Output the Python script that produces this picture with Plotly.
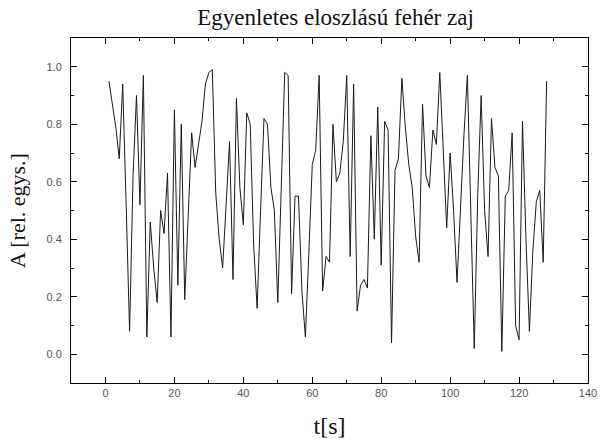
import plotly.graph_objects as go

t = list(range(1, 129))
amplitude = [
    0.95, 0.87, 0.79, 0.68, 0.94, 0.52, 0.08, 0.62, 0.90, 0.52,
    0.97, 0.06, 0.46, 0.30, 0.18, 0.50, 0.42, 0.63, 0.06, 0.85,
    0.24, 0.80, 0.19, 0.48, 0.77, 0.65, 0.73, 0.81, 0.94, 0.98,
    0.99, 0.56, 0.40, 0.30, 0.52, 0.74, 0.26, 0.89, 0.58, 0.45,
    0.84, 0.80, 0.38, 0.16, 0.50, 0.82, 0.80, 0.58, 0.50, 0.18,
    0.58, 0.98, 0.97, 0.21, 0.55, 0.55, 0.22, 0.06, 0.35, 0.66,
    0.71, 0.97, 0.22, 0.34, 0.32, 0.80, 0.60, 0.63, 0.74, 0.97,
    0.34, 0.94, 0.15, 0.24, 0.26, 0.23, 0.76, 0.40, 0.86, 0.31,
    0.81, 0.78, 0.04, 0.64, 0.68, 0.96, 0.79, 0.66, 0.58, 0.41,
    0.32, 0.87, 0.62, 0.58, 0.78, 0.73, 0.98, 0.68, 0.44, 0.70,
    0.50, 0.25, 0.53, 0.76, 0.97, 0.50, 0.02, 0.55, 0.90, 0.50,
    0.34, 0.82, 0.65, 0.62, 0.01, 0.55, 0.57, 0.77, 0.10, 0.05,
    0.81, 0.40, 0.08, 0.36, 0.53, 0.57, 0.32, 0.95,
]

title_text = "Egyenletes eloszlású fehér zaj"
x_title = "t[s]"
y_title = "A [rel. egys.]"

serif = "Liberation Serif, Times New Roman, serif"
sans = "Liberation Sans, Arial, sans-serif"

fig = go.Figure(
    go.Scatter(x=t, y=amplitude, mode="lines",
               line=dict(color="#1a1a1a", width=1), showlegend=False)
)

fig.update_layout(
    width=609, height=446,
    margin=dict(l=71, r=13, t=38, b=60),
    paper_bgcolor="white", plot_bgcolor="white",
    title=dict(text=title_text, x=0.551, xanchor="center", y=0.962, yanchor="middle",
               font=dict(family=serif, size=23, color="#111")),
)

fig.update_xaxes(
    range=[-10, 140], tick0=0, dtick=20,
    showgrid=False, zeroline=False,
    showline=True, linecolor="black", linewidth=1, mirror="ticks",
    ticks="inside", ticklen=6, tickcolor="black", tickwidth=1,
    minor=dict(dtick=10, ticks="inside", ticklen=3, tickcolor="black", showgrid=False),
    tickfont=dict(family=sans, size=11, color="#555"),
    title=dict(text=x_title, font=dict(family=serif, size=24, color="#111"), standoff=18),
)

fig.update_yaxes(
    range=[-0.1, 1.1], tick0=0, dtick=0.2, tickformat=".1f",
    showgrid=False, zeroline=False,
    showline=True, linecolor="black", linewidth=1, mirror="ticks",
    ticks="inside", ticklen=6, tickcolor="black", tickwidth=1,
    minor=dict(dtick=0.1, ticks="inside", ticklen=3, tickcolor="black", showgrid=False),
    tickfont=dict(family=sans, size=11, color="#555"),
    ticklabelstandoff=6,
    title=dict(text=y_title, font=dict(family=serif, size=22, color="#111"), standoff=14),
)

fig.write_html("out.html")
